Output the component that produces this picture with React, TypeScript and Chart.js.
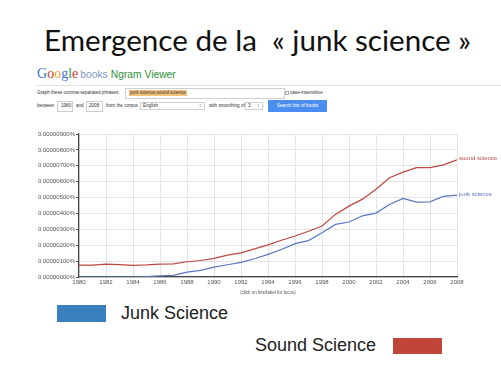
import React, { useEffect, useRef } from "react";
import { Chart, registerables } from "chart.js";

Chart.register(...registerables);

const years = [1980, 1981, 1982, 1983, 1984, 1985, 1986, 1987, 1988, 1989, 1990, 1991, 1992, 1993, 1994, 1995, 1996, 1997, 1998, 1999, 2000, 2001, 2002, 2003, 2004, 2005, 2006, 2007, 2008];
// values in units of 0.000001 %
const junkScience = [0, 0, 0, 0, 0, 0.02, 0.08, 0.1, 0.31, 0.42, 0.62, 0.77, 0.92, 1.15, 1.42, 1.73, 2.1, 2.29, 2.79, 3.31, 3.46, 3.85, 4.02, 4.56, 4.94, 4.71, 4.73, 5.08, 5.15];
const soundScience = [0.75, 0.75, 0.81, 0.78, 0.73, 0.76, 0.81, 0.83, 0.96, 1.04, 1.17, 1.38, 1.52, 1.77, 2.02, 2.31, 2.58, 2.88, 3.21, 3.94, 4.46, 4.9, 5.52, 6.25, 6.6, 6.88, 6.88, 7.06, 7.38];
const seriesNames = ["junk science", "sound science"];
const legendNames = ["Junk Science", "Sound Science"];
const yMax = 9;

const BLUE = "#5877c2";
const RED = "#bf4740";

const endLabels = {
  id: "endLabels",
  afterDatasetsDraw(chart: any) {
    const ctx = chart.ctx;
    ctx.save();
    ctx.font = "6px 'Liberation Sans', Arial, sans-serif";
    ctx.textBaseline = "middle";
    ctx.textAlign = "left";
    chart.data.datasets.forEach((ds: any, i: number) => {
      const meta = chart.getDatasetMeta(i);
      const pt = meta.data[meta.data.length - 1];
      ctx.fillStyle = ds.borderColor;
      ctx.fillText(ds.label, pt.x + 2, pt.y - 1);
    });
    const a = chart.chartArea;
    ctx.fillStyle = "#555";
    ctx.font = "4.5px 'Liberation Sans', Arial, sans-serif";
    ctx.textAlign = "center";
    ctx.fillText("(click on line/label for focus)", (a.left + a.right) / 2, a.bottom + 16);
    ctx.restore();
  },
};

function NgramChart() {
  const ref = useRef<HTMLCanvasElement>(null);
  useEffect(() => {
    const chart = new Chart(ref.current as HTMLCanvasElement, {
      type: "line",
      data: {
        datasets: [
          {
            label: seriesNames[0],
            data: years.map((y, i) => ({ x: y, y: junkScience[i] })),
            borderColor: BLUE,
            borderWidth: 1.2,
            pointRadius: 0,
            tension: 0,
          },
          {
            label: seriesNames[1],
            data: years.map((y, i) => ({ x: y, y: soundScience[i] })),
            borderColor: RED,
            borderWidth: 1.2,
            pointRadius: 0,
            tension: 0,
          },
        ],
      },
      options: {
        animation: false,
        responsive: false,
        maintainAspectRatio: false,
        layout: { padding: { left: 0, right: 44, top: 14, bottom: 0 } },
        plugins: { legend: { display: false }, tooltip: { enabled: false } },
        scales: {
          x: {
            type: "linear",
            min: years[0],
            max: years[years.length - 1],
            afterFit: (s: any) => {
              s.height = 23;
            },
            ticks: {
              stepSize: 2,
              callback: (v: any) => String(v),
              font: { size: 6, family: "'Liberation Sans', Arial, sans-serif" },
              color: "#555",
              padding: 0,
              maxRotation: 0,
            },
            grid: { color: "#e4e4e4", tickLength: 2, tickColor: "#e4e4e4", lineWidth: 1 },
            border: { color: "#444", width: 1.2 },
          },
          y: {
            min: 0,
            max: yMax,
            afterFit: (s: any) => {
              s.width = 79;
            },
            ticks: {
              stepSize: 1,
              callback: (v: any) => (Number(v) * 1e-6).toFixed(8) + "%",
              font: { size: 6, family: "'Liberation Sans', Arial, sans-serif" },
              color: "#555",
              padding: 1,
            },
            grid: { color: "#e4e4e4", tickLength: 3, tickColor: "#555" },
            border: { color: "#444", width: 1.2 },
          },
        },
      },
      plugins: [endLabels],
    } as any);
    return () => chart.destroy();
  }, []);
  return <canvas ref={ref} width={501} height={180} style={{ position: "absolute", left: 0, top: 120, width: 501, height: 180 }} />;
}

const tiny: React.CSSProperties = {
  position: "absolute",
  fontFamily: "'Liberation Sans', Arial, sans-serif",
  fontSize: 4.6,
  color: "#333",
  lineHeight: "6px",
  whiteSpace: "nowrap",
};

const box = (left: number, top: number, width: number, height: number): React.CSSProperties => ({
  position: "absolute",
  left,
  top,
  width,
  height,
  border: "1px solid #cfcfcf",
  boxSizing: "border-box",
  background: "#fff",
});

export default function App() {
  return (
    <div style={{ position: "absolute", left: 0, top: 0, width: 501, height: 375, background: "#fff", overflow: "hidden" }}>
      <div
        style={{
          position: "absolute",
          left: 0,
          top: 24,
          width: 515,
          textAlign: "center",
          fontFamily: "Lato, 'Open Sans', sans-serif",
          fontSize: 29.6,
          lineHeight: "32px",
          color: "#111",
          whiteSpace: "pre",
        }}
      >
        {"Emergence de la  « junk science »"}
      </div>

      {/* Ngram header */}
      <div style={{ position: "absolute", left: 37, top: 65, whiteSpace: "nowrap", lineHeight: "16px" }}>
        <span style={{ fontFamily: "'Liberation Serif', serif", fontSize: 14 }}>
          <span style={{ color: "#3b6fd1" }}>G</span>
          <span style={{ color: "#d5392b" }}>o</span>
          <span style={{ color: "#e9a81b" }}>o</span>
          <span style={{ color: "#3b6fd1" }}>g</span>
          <span style={{ color: "#3d9a3b" }}>l</span>
          <span style={{ color: "#d5392b" }}>e</span>
        </span>
        <span style={{ fontFamily: "'Liberation Sans', Arial, sans-serif", fontSize: 10.3, color: "#7f96c6", marginLeft: 2 }}>books</span>
        <span style={{ fontFamily: "'Liberation Sans', Arial, sans-serif", fontSize: 10.3, color: "#2f8f34", marginLeft: 3 }}>Ngram Viewer</span>
      </div>
      <div style={{ position: "absolute", left: 37, top: 85, width: 464, height: 1, background: "#e2e2e2" }} />

      <div style={{ ...tiny, left: 37, top: 90 }}>Graph these comma-separated phrases:</div>
      <div style={box(125, 88, 160, 11)} />
      <div style={{ ...tiny, left: 129, top: 90, background: "#f4c27a", padding: "0 1px" }}>junk science,sound science</div>
      <div style={{ position: "absolute", left: 285, top: 91, width: 4, height: 4, border: "1px solid #aaa", boxSizing: "border-box" }} />
      <div style={{ ...tiny, left: 290, top: 90 }}>case-insensitive</div>

      <div style={{ ...tiny, left: 37, top: 103 }}>between</div>
      <div style={box(57, 101, 16, 11)} />
      <div style={{ ...tiny, left: 61, top: 103 }}>1980</div>
      <div style={{ ...tiny, left: 76, top: 103 }}>and</div>
      <div style={box(86, 101, 17, 11)} />
      <div style={{ ...tiny, left: 89, top: 103 }}>2008</div>
      <div style={{ ...tiny, left: 106, top: 103 }}>from the corpus</div>
      <div style={box(140, 102, 65, 8)} />
      <div style={{ ...tiny, left: 143, top: 103 }}>English</div>
      <div style={{ ...tiny, left: 199, top: 103 }}>↕</div>
      <div style={{ ...tiny, left: 209, top: 103 }}>with smoothing of</div>
      <div style={box(245, 102, 18, 8)} />
      <div style={{ ...tiny, left: 248, top: 103 }}>3</div>
      <div style={{ ...tiny, left: 257, top: 103 }}>↕</div>
      <div style={{ ...tiny, left: 263, top: 103 }}>.</div>
      <div
        style={{
          ...tiny,
          left: 268,
          top: 100,
          width: 59,
          height: 12,
          background: "#4a8ef0",
          color: "#fff",
          textAlign: "center",
          lineHeight: "12px",
          borderRadius: 1,
        }}
      >
        Search lots of books
      </div>

      <NgramChart />

      {/* bottom legend */}
      <div style={{ position: "absolute", left: 57, top: 305, width: 49, height: 17, background: "#3a80bd" }} />
      <div
        style={{
          position: "absolute",
          left: 121,
          top: 302,
          fontFamily: "'Liberation Sans', Arial, sans-serif",
          fontSize: 18,
          lineHeight: "22px",
          color: "#222",
          whiteSpace: "nowrap",
        }}
      >
        {legendNames[0]}
      </div>
      <div
        style={{
          position: "absolute",
          left: 255,
          top: 334,
          fontFamily: "'Liberation Sans', Arial, sans-serif",
          fontSize: 18,
          lineHeight: "22px",
          color: "#222",
          whiteSpace: "nowrap",
        }}
      >
        {legendNames[1]}
      </div>
      <div style={{ position: "absolute", left: 393, top: 338, width: 49, height: 16, background: "#c0463a" }} />
    </div>
  );
}
